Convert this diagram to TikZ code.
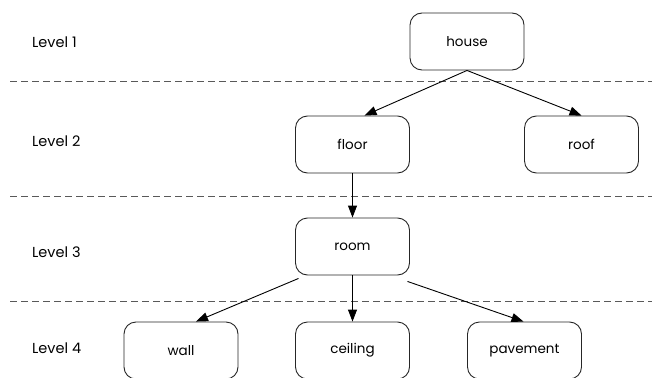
\documentclass[tikz,border=0pt]{standalone}
\usepackage{fontspec}
\setmainfont{Poppins}
\usetikzlibrary{arrows.meta}
\begin{document}
\begin{tikzpicture}[x=1pt,y=-1pt,
  box/.style={draw=black!85,line width=0.9pt,rounded corners=12pt,
    minimum width=114pt,minimum height=57pt,inner sep=0pt,font=\fontsize{13.5}{15}\selectfont},
  levellabel/.style={anchor=base west,inner sep=0pt,font=\fontsize{14.5}{17}\selectfont},
  divider/.style={draw=black!65,line width=0.9pt,dash pattern=on 7pt off 4pt},
  link/.style={draw=black,line width=0.9pt,-{Triangle[length=12pt,width=9pt]}}]
\useasboundingbox (0,0) rectangle (652,377);

% level separators
\coordinate (d1a) at (10,81);  \coordinate (d1b) at (652,81);
\coordinate (d2a) at (10,196); \coordinate (d2b) at (652,196);
\coordinate (d3a) at (10,301); \coordinate (d3b) at (652,301);
\draw[divider] (d1a) -- (d1b);
\draw[divider] (d2a) -- (d2b);
\draw[divider] (d3a) -- (d3b);

% level captions
\node[levellabel] (l1) at (32,48)  {Level 1};
\node[levellabel] (l2) at (32,146) {Level 2};
\node[levellabel] (l3) at (32,257) {Level 3};
\node[levellabel] (l4) at (32,353) {Level 4};

% tree nodes
\node[box] (house)    at (467,41.5)  {house};
\node[box] (floor)    at (352.5,144.5) {floor};
\node[box] (roof)     at (581.5,144.5) {roof};
\node[box] (room)     at (352.5,246.5) {room};
\node[box] (wall)     at (181,350.5)   {wall};
\node[box] (ceiling)  at (352.5,350.5) {ceiling};
\node[box] (pavement) at (524.5,350.5) {pavement};

% connectors
\draw[link] (house.south) -- ([xshift=12pt]floor.north);
\draw[link] (house.south) -- (roof.north);
\draw[link] (floor.south) -- (room.north);
\draw[link] ([xshift=-54pt,yshift=-3pt]room.south) -- ([xshift=15pt]wall.north);
\draw[link] (room.south) -- (ceiling.north);
\draw[link] ([xshift=55pt,yshift=-6pt]room.south) -- ([xshift=-1pt]pavement.north);
\end{tikzpicture}
\end{document}
